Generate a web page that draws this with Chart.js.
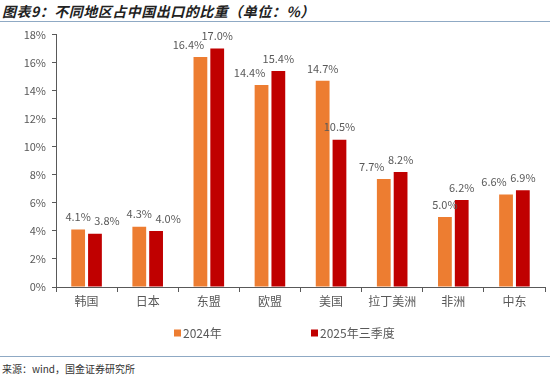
<!DOCTYPE html>
<html>
<head>
<meta charset="utf-8">
<script src="https://cdn.jsdelivr.net/npm/chart.js@4"></script>
<style>
  body { margin: 0; width: 550px; height: 377px; background: #fff; position: relative; overflow: hidden; font-family: "Noto Sans CJK SC", sans-serif; }
  #title { position: absolute; left: 2px; top: 1px; font-size: 14px; font-weight: bold; font-style: italic; color: #222; letter-spacing: 0.5px; }
  #topLine { position: absolute; left: 0; top: 21px; width: 550px; height: 1px; background: #8fa9c4; }
  #bottomLine { position: absolute; left: 0; top: 356px; width: 550px; height: 1px; background: #8fa9c4; }
  #source { position: absolute; left: 2px; top: 361px; font-size: 10px; color: #333; }
  #wrap { position: absolute; left: 0; top: 22px; width: 550px; height: 330px; }
</style>
</head>
<body>
<div id="title">图表9：不同地区占中国出口的比重（单位：%）</div>
<div id="topLine"></div>
<div id="wrap"><canvas id="chart" width="550" height="330"></canvas></div>
<div id="bottomLine"></div>
<div id="source">来源：wind，国金证券研究所</div>
<script>
// 不同地区占中国出口比重 (%)
const regions = ["韩国", "日本", "东盟", "欧盟", "美国", "拉丁美洲", "非洲", "中东"];
const share2024 = [4.1, 4.3, 16.4, 14.4, 14.7, 7.7, 5.0, 6.6];
const share2025q3 = [3.8, 4.0, 17.0, 15.4, 10.5, 8.2, 6.2, 6.9];
const seriesNames = ["2024年", "2025年三季度"];
const seriesColors = ["#ED7D31", "#C00000"];
const yTicks = [0, 2, 4, 6, 8, 10, 12, 14, 16, 18];

const gray = "#595959";
const cjk = "'Noto Sans CJK SC', sans-serif";

// value labels above bars; when the pair collides, push the lower one outward
const barLabels = {
  id: "barLabels",
  afterDatasetsDraw(chart) {
    const ctx = chart.ctx;
    ctx.save();
    ctx.font = "11px " + cjk;
    ctx.fillStyle = gray;
    ctx.textAlign = "center";
    ctx.textBaseline = "bottom";
    const m0 = chart.getDatasetMeta(0).data, m1 = chart.getDatasetMeta(1).data;
    const d0 = chart.data.datasets[0].data, d1 = chart.data.datasets[1].data;
    const h = 15;
    for (let j = 0; j < m0.length; j++) {
      const t0 = d0[j].toFixed(1) + "%", t1 = d1[j].toFixed(1) + "%";
      const w0 = ctx.measureText(t0).width, w1 = ctx.measureText(t1).width;
      let x0 = m0[j].x, y0 = m0[j].y - 7;
      let x1 = m1[j].x, y1 = m1[j].y - 7;
      const overlapX = (x0 + w0 / 2) > (x1 - w1 / 2);
      const overlapY = Math.abs(y0 - y1) < h;
      if (overlapX && overlapY) {
        if (d0[j] < d1[j]) x0 -= 12; else x1 += 12;
      }
      ctx.fillText(t0, x0, y0);
      ctx.fillText(t1, x1, y1);
    }
    ctx.restore();
  }
};

// legend under the axis
const bottomLegend = {
  id: "bottomLegend",
  afterDraw(chart) {
    const ctx = chart.ctx;
    const starts = [174, 311];
    ctx.save();
    ctx.font = "12px " + cjk;
    ctx.textBaseline = "middle";
    ctx.textAlign = "left";
    chart.data.datasets.forEach((ds, i) => {
      const x = starts[i], y = 311;
      ctx.fillStyle = ds.backgroundColor;
      ctx.fillRect(x, y - 3.5, 7, 7);
      ctx.fillStyle = gray;
      ctx.fillText(ds.label, x + 9, y);
    });
    ctx.restore();
  }
};

new Chart(document.getElementById("chart").getContext("2d"), {
  type: "bar",
  data: {
    labels: regions,
    datasets: [
      { label: seriesNames[0], data: share2024, backgroundColor: seriesColors[0] },
      { label: seriesNames[1], data: share2025q3, backgroundColor: seriesColors[1] }
    ]
  },
  options: {
    responsive: false,
    animation: false,
    categoryPercentage: 0.55,
    barPercentage: 0.82,
    layout: { padding: { top: 6, right: 5, left: 0, bottom: 0 } },
    plugins: {
      legend: { display: false },
      tooltip: { enabled: false }
    },
    scales: {
      x: {
        grid: { offset: true, drawOnChartArea: false, tickLength: 5, color: gray },
        border: { color: gray, width: 1 },
        ticks: { color: gray, font: { family: cjk, size: 12 }, padding: 2, maxRotation: 0 },
        afterFit(scale) { scale.height = 65; }
      },
      y: {
        min: 0,
        max: 18,
        afterBuildTicks(scale) { scale.ticks = yTicks.map(v => ({ value: v })); },
        grid: { drawOnChartArea: false, tickLength: 4, color: gray },
        border: { color: gray, width: 1 },
        ticks: {
          color: gray,
          font: { family: cjk, size: 11 },
          padding: 6,
          callback: v => v + "%"
        },
        afterFit(scale) { scale.width = 56; }
      }
    }
  },
  plugins: [barLabels, bottomLegend]
});
</script>
</body>
</html>
